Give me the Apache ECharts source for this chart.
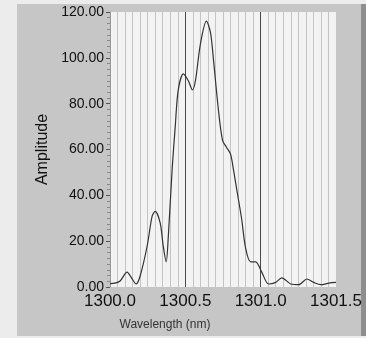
<!DOCTYPE html>
<html>
<head>
<meta charset="utf-8">
<script src="https://cdn.jsdelivr.net/npm/echarts@6/dist/echarts.min.js"></script>
<style>
	html, body { margin: 0; padding: 0; background: #ececec; }
	#chart { width: 366px; height: 338px; }
</style>
</head>
<body>
<div id="chart"></div>
<script>
// wavelength (nm)
var wavelength = [1300.000, 1300.033, 1300.067, 1300.113, 1300.147, 1300.173, 1300.200, 1300.247, 1300.280, 1300.300,
	1300.333, 1300.353, 1300.373, 1300.387, 1300.413, 1300.433, 1300.453, 1300.487, 1300.520, 1300.547,
	1300.567, 1300.600, 1300.640, 1300.667, 1300.687, 1300.720, 1300.747, 1300.773, 1300.800, 1300.820,
	1300.840, 1300.873, 1300.900, 1300.933, 1300.967, 1301.007, 1301.053, 1301.100, 1301.140, 1301.200,
	1301.253, 1301.307, 1301.353, 1301.400, 1301.453, 1301.500];
// amplitude at each wavelength
var amplitude = [1.5, 1.7, 2.6, 6.5, 3.5, 1.3, 4.8, 18, 31, 33,
	28, 18, 11, 22, 52, 70, 86, 93, 90, 86,
	90, 106, 116, 111, 99, 77, 64, 61, 58, 51,
	43, 30, 17, 11, 11, 6.5, 1.3, 2, 4, 1.3,
	1, 3.5, 2, 1, 1.7, 2];
var xTicks = [1300.0, 1300.5, 1301.0, 1301.5];
var yTicks = [0, 20, 40, 60, 80, 100, 120];

var points = [];
for (var i = 0; i < wavelength.length; i++) {
	points.push([wavelength[i], amplitude[i]]);
}

var chart = echarts.init(document.getElementById('chart'));
var option = {
	animation: false,
	backgroundColor: '#ececec',
	textStyle: { fontFamily: 'Liberation Sans' },
	graphic: [
		{ type: 'rect', z: -100, shape: { x: 17, y: 4, width: 345, height: 332 }, style: { fill: '#c6c6c6' } },
		{ type: 'rect', z: -100, shape: { x: 361, y: 4, width: 5, height: 332 }, style: { fill: '#8e8e8e' } }
	],
	grid: {
		left: 110, right: 30, top: 12, bottom: 51,
		show: true,
		backgroundColor: '#f3f3f3',
		borderWidth: 0
	},
	xAxis: {
		type: 'value',
		min: xTicks[0],
		max: xTicks[xTicks.length - 1],
		interval: 0.5,
		name: 'Wavelength (nm)',
		nameLocation: 'middle',
		nameGap: 32,
		nameTextStyle: { fontSize: 12, color: '#333', padding: [0, 116, 0, 0] },
		axisLine: { show: false },
		axisTick: { show: false },
		axisLabel: {
			fontSize: 17, color: '#111', margin: 6,
			formatter: function (v) { return v.toFixed(1); }
		},
		// dark lines only at 1300.5 and 1301.0
		splitLine: { show: true, lineStyle: { color: ['rgba(0,0,0,0)', '#4a4a4a', '#4a4a4a', 'rgba(0,0,0,0)'], width: 1 } },
		minorTick: { show: false, splitNumber: 10 },
		minorSplitLine: { show: true, lineStyle: { color: '#c4c4c4', width: 1 } }
	},
	yAxis: {
		type: 'value',
		min: yTicks[0],
		max: yTicks[yTicks.length - 1],
		interval: 20,
		name: 'Amplitude',
		nameLocation: 'middle',
		nameGap: 58,
		nameTextStyle: { fontSize: 16, color: '#111' },
		axisLine: { show: true, lineStyle: { color: '#999', width: 1 } },
		axisTick: { show: true, length: 4, lineStyle: { color: '#555' } },
		minorTick: { show: true, splitNumber: 8, length: 3, lineStyle: { color: '#888' } },
		axisLabel: {
			fontSize: 14, color: '#111', margin: 6,
			formatter: function (v) { return v.toFixed(2); }
		},
		splitLine: { show: false }
	},
	series: [
		{
			type: 'line',
			data: points,
			smooth: 0.3,
			symbol: 'none',
			lineStyle: { color: '#333', width: 1.2 }
		}
	]
};
chart.setOption(option);
</script>
</body>
</html>
